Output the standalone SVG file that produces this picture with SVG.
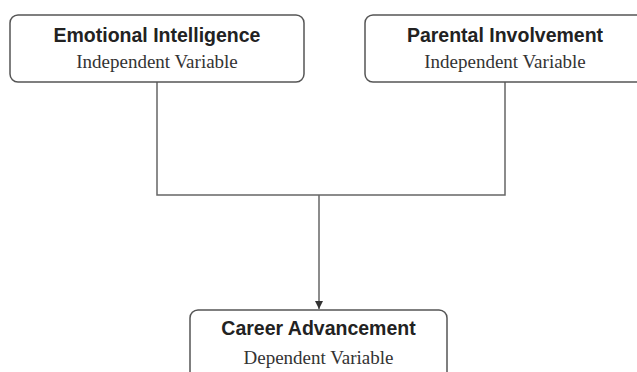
<svg xmlns="http://www.w3.org/2000/svg" width="637" height="372" viewBox="0 0 637 372">
<defs>
<style>
.box{fill:#fff;stroke:#555;stroke-width:1.5}
.t{font-family:"Liberation Sans",Arial,sans-serif;font-weight:bold;font-size:19.5px;fill:#222;text-anchor:middle}
.s{font-family:"Liberation Serif","Times New Roman",serif;font-size:19px;fill:#333;text-anchor:middle}
.c{fill:none;stroke:#666;stroke-width:1.5}
</style>
<marker id="arr" viewBox="0 0 10 10" refX="10" refY="5" markerWidth="8" markerHeight="8" markerUnits="userSpaceOnUse" orient="auto">
<path d="M0,0 L10,5 L0,10 z" fill="#333"/>
</marker>
</defs>
<rect width="637" height="372" fill="#fff"/>
<g id="connectors">
<path class="c" d="M157,82 V195 H505 V82"/>
<path class="c" d="M319,195 V309" marker-end="url(#arr)"/>
</g>
<g id="emotional-intelligence">
<rect class="box" x="10" y="15" width="294" height="67" rx="8"/>
<text class="t" x="157" y="41.5">Emotional Intelligence</text>
<text class="s" x="157" y="68">Independent Variable</text>
</g>
<g id="parental-involvement">
<rect class="box" x="365" y="15" width="294" height="67" rx="8"/>
<text class="t" x="505" y="41.5">Parental Involvement</text>
<text class="s" x="505" y="68">Independent Variable</text>
</g>
<g id="career-advancement">
<rect class="box" x="190" y="310" width="257" height="80" rx="8"/>
<text class="t" x="318.5" y="335">Career Advancement</text>
<text class="s" x="318.5" y="364">Dependent Variable</text>
</g>
</svg>
